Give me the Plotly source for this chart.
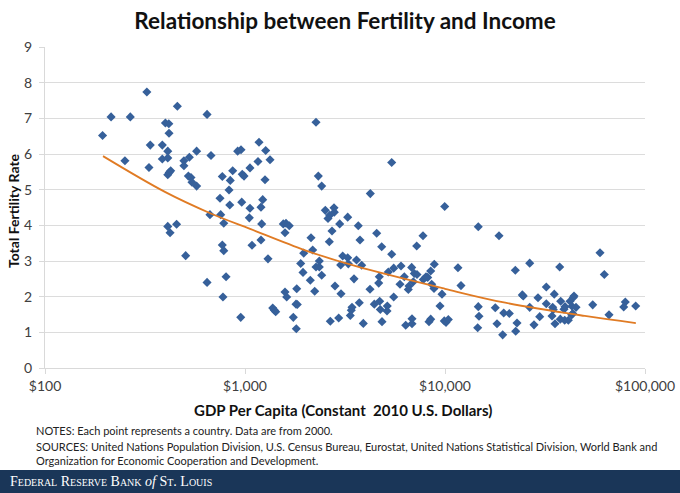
import plotly.graph_objects as go

# GDP per capita (constant 2010 US$) and total fertility rate, one point per country, year 2000
gdp = [194, 214, 251, 267, 323, 331, 336, 386, 386, 400, 416, 417, 411, 411, 411, 418, 425, 459,
       495, 495, 527, 521, 537, 543, 573, 573, 411, 455, 422, 505,
       646, 676, 919, 955, 1175, 1269, 1334, 1161, 868, 770, 969, 989, 1059, 844, 1259, 832, 750,
       839, 963, 1059, 1226, 1202, 668, 756, 1051, 2265, 2326, 2418, 2521, 2786, 2796, 2652, 2600, 3262,
       783, 1212, 1554, 1603, 1665, 1585, 2975, 3685, 2723, 2138, 2640, 1202, 1084, 770, 783, 2180,
       1966, 1303, 3080, 3262, 3610, 3009, 3285, 2353, 1899, 2265, 2353, 1950, 2418, 2121, 3508, 646,
       804, 2818, 1814, 1585, 2231, 3020, 1616, 776, 3728, 1799, 1826, 1376, 1402, 1424, 3428, 3400,
       3361, 952, 1744, 2941, 2670, 1805,
       5414, 4232, 9966, 3758, 4555, 4825, 5414, 3833, 7219, 7762, 14670, 18620, 4694, 5206, 5540,
       6026, 6259, 6815, 7023, 7244, 6942, 7789, 8035, 8194, 8482, 8841, 11610, 12020, 4662, 5957,
       6607, 6554, 8580, 8810, 4217, 9661, 5540, 4431, 4715, 4748, 5146, 5129, 9441, 14670, 14790,
       17840, 19660, 3904, 4842, 6361, 6839, 6839, 8318, 8482, 9920, 10120, 10390, 14570, 18200, 19430,
       20970, 22470, 26520, 37460, 59570, 62600, 32100, 24350, 24630, 29170, 35190, 32100, 37890,
       44160, 43810, 42170, 26520, 34550, 34790, 39810, 39360, 43150, 45190, 54780, 79710, 78260,
       89840, 29750, 34280, 37720, 39680, 41360, 43000, 43500, 66070, 22910, 27860, 35480, 22570]

fertility = [6.52, 7.04, 5.81, 7.04, 7.74, 5.62, 6.25, 6.25, 5.86, 6.87, 6.85, 6.58, 6.08, 5.89, 5.42,
             5.48, 5.53, 7.34, 5.81, 5.67, 5.91, 5.38, 5.34, 5.21, 6.08, 5.10, 3.97, 4.03, 3.79, 3.15,
             7.11, 5.96, 6.08, 6.12, 6.33, 6.10, 5.84, 5.79, 5.53, 5.37, 5.43, 5.38, 5.61, 5.26, 5.28,
             4.99, 4.76, 4.57, 4.65, 4.48, 4.72, 4.51, 4.30, 4.30, 4.21, 6.89, 5.38, 5.10, 4.42, 4.49,
             4.37, 4.28, 4.19, 4.23,
             4.06, 4.04, 4.04, 4.06, 3.99, 3.79, 4.04, 3.99, 3.84, 3.65, 3.54, 3.59, 3.44, 3.45, 3.29,
             3.31, 3.22, 3.06, 3.14, 3.09, 3.03, 2.89, 2.92, 3.00, 2.93, 2.83, 2.83, 2.68, 2.60, 2.46,
             2.50, 2.40, 2.56, 2.30, 2.22, 2.13, 2.15, 2.08, 1.99, 1.99, 1.83, 1.79, 1.78, 1.68, 1.62,
             1.58, 1.70, 1.62, 1.47, 1.42, 1.42, 1.40, 1.31, 1.10,
             5.76, 4.89, 4.53, 3.59, 3.78, 3.40, 3.19, 2.88, 3.42, 3.71, 3.96, 3.71, 2.56, 2.69, 2.80,
             2.86, 2.56, 2.82, 2.65, 2.62, 2.42, 2.48, 2.56, 2.54, 2.72, 2.91, 2.81, 2.31, 2.38, 2.35,
             2.30, 2.20, 2.35, 2.23, 2.21, 2.07, 1.99, 1.79, 1.87, 1.64, 1.74, 1.60, 1.74, 1.72, 1.45,
             1.69, 1.54, 1.25, 1.30, 1.20, 1.38, 1.24, 1.30, 1.37, 1.32, 1.28, 1.36, 1.13, 1.24, 0.93,
             1.53, 2.74, 2.94, 2.83, 3.23, 2.62, 2.27, 2.05, 2.02, 1.97, 2.07, 1.80, 1.87,
             2.02, 1.98, 1.87, 1.70, 1.70, 1.64, 1.72, 1.65, 1.73, 1.70, 1.77, 1.85, 1.71,
             1.74, 1.44, 1.46, 1.37, 1.34, 1.34, 1.49, 1.53, 1.49, 1.26, 1.21, 1.24, 1.03]

# power trendline
trend_gdp = [195, 400, 670, 1060, 2000, 3550, 10000, 20000, 50000, 90000]
trend_tfr = [5.94, 4.93, 4.34, 3.90, 3.30, 2.86, 2.22, 1.83, 1.46, 1.26]

x_ticks = [100, 1000, 10000, 100000]
x_labels = ['$100', '$1,000', '$10,000', '$100,000']

W, H = 680, 493
L, R, T, B = 45, 35, 47, 125
PW, PH = W - L - R, H - T - B


def px_x(p):
    # pixel column -> paper x
    return (p - L) / PW


def px_y(p):
    # pixel row (from top) -> paper y
    return (H - B - p) / PH


fig = go.Figure()
fig.add_trace(go.Scatter(x=gdp, y=fertility, mode='markers',
                         marker=dict(symbol='diamond', size=7, color='#36609a'),
                         showlegend=False))
fig.add_trace(go.Scatter(x=trend_gdp, y=trend_tfr, mode='lines',
                         line=dict(color='#e07b24', width=1.8, shape='spline'),
                         showlegend=False))

fig.update_layout(
    width=W, height=H,
    margin=dict(l=L, r=R, t=T, b=B, autoexpand=False),
    paper_bgcolor='white', plot_bgcolor='white',
    font=dict(family='Lato', color='#404040'),
    title=dict(text='<b>Relationship between Fertility and Income</b>',
               x=0.5, xanchor='center', xref='paper', yref='container',
               y=1 - 21 / H, yanchor='middle',
               font=dict(size=22.5, color='#111111')),
    xaxis=dict(type='log', range=[2, 5], tickvals=x_ticks, ticktext=x_labels,
               showgrid=False, showline=True, linecolor='#d9d9d9', linewidth=1,
               ticks='outside', ticklen=5, tickcolor='#d9d9d9', automargin=False,
               tickfont=dict(size=14, color='#404040')),
    yaxis=dict(range=[0, 9], dtick=1, showgrid=True, gridcolor='#dcdcdc',
               showline=True, linecolor='#d9d9d9', zeroline=False,
               ticks='outside', ticklen=5, tickcolor='#d9d9d9', automargin=False,
               ticklabelstandoff=4,
               tickfont=dict(size=14, color='#404040')),
)

# axis titles
fig.add_annotation(text='<b>GDP Per Capita (Constant  2010 U.S. Dollars)</b>', xref='paper', yref='paper',
                   x=px_x(343), y=px_y(410), xanchor='center', yanchor='middle', showarrow=False,
                   font=dict(size=15, color='#111111'))
fig.add_annotation(text='<b>Total Fertility Rate</b>', xref='paper', yref='paper', textangle=-90,
                   x=px_x(13), y=px_y(211), xanchor='center', yanchor='middle', showarrow=False,
                   font=dict(size=14, color='#111111'))

notes = ['NOTES: Each point represents a country. Data are from 2000.',
         'SOURCES: United Nations Population Division, U.S. Census Bureau, Eurostat, United Nations Statistical Division, World Bank and',
         'Organization for Economic Cooperation and Development.']
note_rows = [431, 446, 460]
for line, row in zip(notes, note_rows):
    fig.add_annotation(text=line, xref='paper', yref='paper', x=px_x(34), xanchor='left',
                       y=px_y(row), yanchor='middle', showarrow=False,
                       font=dict(size=11, color='#222222'))

# footer band
fig.add_shape(type='rect', xref='paper', yref='paper', x0=px_x(0), x1=px_x(W),
              y0=px_y(H), y1=px_y(470), fillcolor='#1a3658', line_width=0, layer='above')
fig.add_annotation(text='Federal Reserve Bank <span style="font-variant:normal"><i>of</i></span> St. Louis',
                   xref='paper', yref='paper',
                   x=px_x(8), xanchor='left', y=px_y(481), yanchor='middle',
                   showarrow=False,
                   font=dict(family='Liberation Serif', size=14, color='white', variant='small-caps'))

fig.write_html('out.html', config={'displayModeBar': False},
               post_script="document.body.style.margin='0px';")
